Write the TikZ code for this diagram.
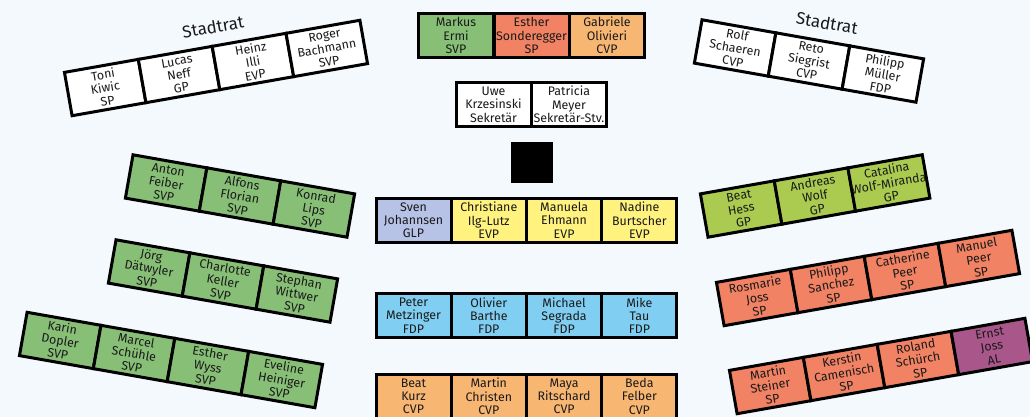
\documentclass[tikz,border=0pt]{standalone}
\usepackage{fontspec}
\setmainfont{Fira Sans}
\usepackage{tikz}
\usetikzlibrary{positioning}

\definecolor{bgblue}{HTML}{F4F9FE}
\definecolor{svp}{HTML}{88BF77}
\definecolor{sp}{HTML}{F18263}
\definecolor{cvp}{HTML}{F8B673}
\definecolor{evp}{HTML}{FFF27E}
\definecolor{glp}{HTML}{B6C2E6}
\definecolor{fdp}{HTML}{80CFF3}
\definecolor{gp}{HTML}{AACB50}
\definecolor{al}{HTML}{A9568A}
\definecolor{ink}{HTML}{1A1A1A}

\begin{document}
\begin{tikzpicture}
  [x=1pt,y=-1pt,
   seat/.style={draw=black,line width=3pt,fill=white,rectangle,inner sep=0pt,
     minimum width=75pt,minimum height=44pt,align=center,text=ink,
     font=\fontsize{12.4}{13.4}\selectfont},
   title/.style={text=ink,font=\fontsize{17}{19}\selectfont}]
  \path[use as bounding box,fill=bgblue] (0,0) rectangle (1030,417);

  % Stadtrat links
  \node[title,rotate=10] (st1) at (213,27) {Stadtrat};
  \begin{scope}[shift={(216,68)},rotate=10,transform shape]
    \node[seat] (sl1) at (-112.5,0) {Toni\\Kiwic\\SP};
    \node[seat] (sl2) at (-37.5,0) {Lucas\\Neff\\GP};
    \node[seat] (sl3) at (37.5,0) {Heinz\\Illi\\EVP};
    \node[seat] (sl4) at (112.5,0) {Roger\\Bachmann\\SVP};
  \end{scope}

  % Stadtrat rechts
  \node[title,rotate=-10] (st2) at (827,23) {Stadtrat};
  \begin{scope}[shift={(809,61)},rotate=-10,transform shape]
    \node[seat] (sr1) at (-75,0) {Rolf\\Schaeren\\CVP};
    \node[seat] (sr2) at (0,0) {Reto\\Siegrist\\CVP};
    \node[seat] (sr3) at (75,0) {Philipp\\Müller\\FDP};
  \end{scope}

  % Praesidium
  \node[seat,fill=svp] (p1) at (456,35.5) {Markus\\Ermi\\SVP};
  \node[seat,fill=sp] (p2) at (531.5,35.5) {Esther\\Sonderegger\\SP};
  \node[seat,fill=cvp] (p3) at (607,35.5) {Gabriele\\Olivieri\\CVP};
  \node[seat] (s1) at (493.5,104.5) {Uwe\\Krzesinski\\Sekretär};
  \node[seat] (s2) at (569,104.5) {Patricia\\Meyer\\Sekretär-Stv.};
  \node[fill=black,minimum size=41.5pt,inner sep=0pt] (pult) at (532,162.5) {};

  % Mitte
  \node[seat,fill=glp] (m1) at (413.5,220.3) {Sven\\Johannsen\\GLP};
  \node[seat,fill=evp] (m2) at (488.8,220.3) {Christiane\\Ilg-Lutz\\EVP};
  \node[seat,fill=evp] (m3) at (564.1,220.3) {Manuela\\Ehmann\\EVP};
  \node[seat,fill=evp] (m4) at (639.4,220.3) {Nadine\\Burtscher\\EVP};

  \node[seat,fill=fdp] (f1) at (413.5,315.7) {Peter\\Metzinger\\FDP};
  \node[seat,fill=fdp] (f2) at (488.8,315.7) {Olivier\\Barthe\\FDP};
  \node[seat,fill=fdp] (f3) at (564.1,315.7) {Michael\\Segrada\\FDP};
  \node[seat,fill=fdp] (f4) at (639.4,315.7) {Mike\\Tau\\FDP};

  \node[seat,fill=cvp] (c1) at (413.5,396.3) {Beat\\Kurz\\CVP};
  \node[seat,fill=cvp] (c2) at (488.8,396.3) {Martin\\Christen\\CVP};
  \node[seat,fill=cvp] (c3) at (564.1,396.3) {Maya\\Ritschard\\CVP};
  \node[seat,fill=cvp] (c4) at (639.4,396.3) {Beda\\Felber\\CVP};

  % links
  \begin{scope}[shift={(240,196)},rotate=-10,transform shape]
    \node[seat,fill=svp] (a1) at (-75,0) {Anton\\Feiber\\SVP};
    \node[seat,fill=svp] (a2) at (0,0) {Alfons\\Florian\\SVP};
    \node[seat,fill=svp] (a3) at (75,0) {Konrad\\Lips\\SVP};
  \end{scope}
  \begin{scope}[shift={(223,281)},rotate=-10,transform shape]
    \node[seat,fill=svp] (b1) at (-75,0) {Jörg\\Dätwyler\\SVP};
    \node[seat,fill=svp] (b2) at (0,0) {Charlotte\\Keller\\SVP};
    \node[seat,fill=svp] (b3) at (75,0) {Stephan\\Wittwer\\SVP};
  \end{scope}
  \begin{scope}[shift={(171,360)},rotate=-10,transform shape]
    \node[seat,fill=svp] (k1) at (-112.5,0) {Karin\\Dopler\\SVP};
    \node[seat,fill=svp] (k2) at (-37.5,0) {Marcel\\Schühle\\SVP};
    \node[seat,fill=svp] (k3) at (37.5,0) {Esther\\Wyss\\SVP};
    \node[seat,fill=svp] (k4) at (112.5,0) {Eveline\\Heiniger\\SVP};
  \end{scope}

  % rechts
  \begin{scope}[shift={(815,196)},rotate=10,transform shape]
    \node[seat,fill=gp] (g1) at (-75,0) {Beat\\Hess\\GP};
    \node[seat,fill=gp] (g2) at (0,0) {Andreas\\Wolf\\GP};
    \node[seat,fill=gp] (g3) at (75,0) {Catalina\\Wolf-Miranda\\GP};
  \end{scope}
  \begin{scope}[shift={(868,278)},rotate=10,transform shape]
    \node[seat,fill=sp] (r1) at (-112.5,0) {Rosmarie\\Joss\\SP};
    \node[seat,fill=sp] (r2) at (-37.5,0) {Philipp\\Sanchez\\SP};
    \node[seat,fill=sp] (r3) at (37.5,0) {Catherine\\Peer\\SP};
    \node[seat,fill=sp] (r4) at (112.5,0) {Manuel\\Peer\\SP};
  \end{scope}
  \begin{scope}[shift={(881,366)},rotate=10,transform shape]
    \node[seat,fill=sp] (t1) at (-112.5,0) {Martin\\Steiner\\SP};
    \node[seat,fill=sp] (t2) at (-37.5,0) {Kerstin\\Camenisch\\SP};
    \node[seat,fill=sp] (t3) at (37.5,0) {Roland\\Schürch\\SP};
    \node[seat,fill=al] (t4) at (112.5,0) {Ernst\\Joss\\AL};
  \end{scope}
\end{tikzpicture}
\end{document}
